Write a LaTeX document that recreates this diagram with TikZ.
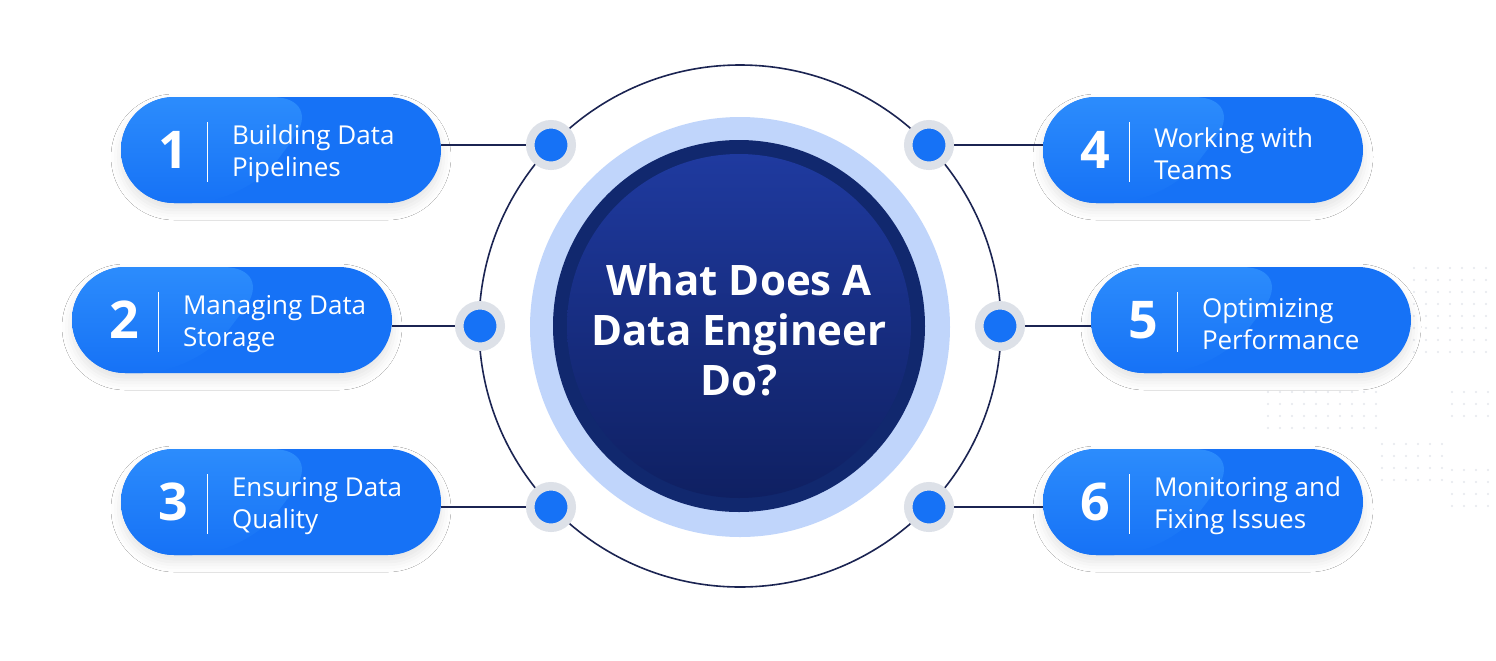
\documentclass[tikz,border=0pt]{standalone}
\usepackage{fontspec}
\IfFontExistsTF{Noto Sans Bold}{\setmainfont{Noto Sans}[BoldFont={Noto Sans Bold}]}{\setmainfont{Open Sans}}
\usetikzlibrary{positioning}
\usetikzlibrary{shadows.blur}

\definecolor{pillblue}{HTML}{1672F6}
\definecolor{pillhi}{HTML}{2C8CFC}
\definecolor{navy}{HTML}{1B2452}
\definecolor{ringgray}{HTML}{DDE1E8}
\definecolor{ringlight}{HTML}{C0D5FB}
\definecolor{corenavy}{HTML}{11286E}
\definecolor{coretop}{HTML}{1F3A9F}
\definecolor{corebot}{HTML}{0F2062}
\definecolor{speck}{HTML}{E4E7EC}

\tikzset{
	pill/.style={rectangle, rounded corners=26.5pt, minimum width=160pt, minimum height=53pt, inner sep=0pt, fill=pillblue,
		blur shadow={shadow xshift=0pt, shadow yshift=-3.5pt, shadow blur radius=5pt, shadow opacity=11},
		path picture={\shade[top color=pillhi, bottom color=pillblue] (path picture bounding box.north west) -- ([xshift=102pt]path picture bounding box.north west) -- ([xshift=62pt]path picture bounding box.south west) -- (path picture bounding box.south west) -- cycle;}},
	numtext/.style={text=white, font=\fontsize{26}{30}\selectfont\bfseries, inner sep=0pt},
	itemtext/.style={text=white, font=\fontsize{13}{16}\selectfont, align=left, anchor=west, inner sep=0pt},
	sepline/.style={white, line width=0.8pt},
	link/.style={navy, line width=0.8pt},
	dotnode/.style={circle, fill=pillblue, draw=ringgray, line width=4.25pt, minimum size=20.75pt, inner sep=0pt},
	title/.style={text=white, font=\fontsize{21}{25}\selectfont\bfseries, align=center}
}

\begin{document}
\begin{tikzpicture}[x=0.5pt,y=-0.5pt]
		\fill[white] (0,0) rectangle (1496,660);
		\useasboundingbox (0,0) rectangle (1496,660);

		% faint specks, lower right
		\foreach \x in {1414,1426,...,1490} \foreach \y in {268,280,...,356} \fill[speck] (\x,\y) circle[radius=0.6pt];
		\foreach \x in {1268,1280,...,1384} \foreach \y in {392,404,...,428} \fill[speck] (\x,\y) circle[radius=0.6pt];
		\foreach \x in {1452,1464,...,1490} \foreach \y in {392,404,...,420} \fill[speck] (\x,\y) circle[radius=0.6pt];
		\foreach \x in {1382,1394,...,1442} \foreach \y in {444,456,...,488} \fill[speck] (\x,\y) circle[radius=0.6pt];
		\foreach \x in {1452,1464,...,1490} \foreach \y in {470,482,...,510} \fill[speck] (\x,\y) circle[radius=0.6pt];

		% orbit and dot centres
		\node[circle, draw=navy, line width=0.8pt, minimum size=261pt, inner sep=0pt] (orbit) at (740,326) {};
		\coordinate (c1) at (551,145);
		\coordinate (c2) at (480,326);
		\coordinate (c3) at (551,507);
		\coordinate (c4) at (929,145);
		\coordinate (c5) at (1000,326);
		\coordinate (c6) at (929,507);

		% left pills
		\node[pill] (p1) at (281,150) {};
		\node[numtext] (n1) at ([xshift=26.5pt]p1.west) {1};
		\draw[sepline] ([xshift=43.5pt,yshift=14pt]p1.west) -- ([xshift=43.5pt,yshift=-16pt]p1.west);
		\node[itemtext] (t1) at ([xshift=55.5pt,yshift=-2pt]p1.west) {Building Data\\Pipelines};

		\node[pill] (p2) at (232,320) {};
		\node[numtext] (n2) at ([xshift=26.5pt]p2.west) {2};
		\draw[sepline] ([xshift=43.5pt,yshift=14pt]p2.west) -- ([xshift=43.5pt,yshift=-16pt]p2.west);
		\node[itemtext] (t2) at ([xshift=55.5pt,yshift=-2pt]p2.west) {Managing Data\\Storage};

		\node[pill] (p3) at (281,502) {};
		\node[numtext] (n3) at ([xshift=26.5pt]p3.west) {3};
		\draw[sepline] ([xshift=43.5pt,yshift=14pt]p3.west) -- ([xshift=43.5pt,yshift=-16pt]p3.west);
		\node[itemtext] (t3) at ([xshift=55.5pt,yshift=-2pt]p3.west) {Ensuring Data\\Quality};

		% right pills
		\node[pill] (p4) at (1203,150) {};
		\node[numtext] (n4) at ([xshift=26.5pt]p4.west) {4};
		\draw[sepline] ([xshift=43.5pt,yshift=14pt]p4.west) -- ([xshift=43.5pt,yshift=-16pt]p4.west);
		\node[itemtext] (t4) at ([xshift=55.5pt,yshift=-2pt]p4.west) {Working with\\Teams};

		\node[pill] (p5) at (1251,320) {};
		\node[numtext] (n5) at ([xshift=26.5pt]p5.west) {5};
		\draw[sepline] ([xshift=43.5pt,yshift=14pt]p5.west) -- ([xshift=43.5pt,yshift=-16pt]p5.west);
		\node[itemtext] (t5) at ([xshift=55.5pt,yshift=-2pt]p5.west) {Optimizing\\Performance};

		\node[pill] (p6) at (1203,502) {};
		\node[numtext] (n6) at ([xshift=26.5pt]p6.west) {6};
		\draw[sepline] ([xshift=43.5pt,yshift=14pt]p6.west) -- ([xshift=43.5pt,yshift=-16pt]p6.west);
		\node[itemtext] (t6) at ([xshift=55.5pt,yshift=-2pt]p6.west) {Monitoring and\\Fixing Issues};

		% links
		\draw[link] (c1) -- (c1 -| p1.east);
		\draw[link] (c2) -- (c2 -| p2.east);
		\draw[link] (c3) -- (c3 -| p3.east);
		\draw[link] (c4) -- (c4 -| p4.west);
		\draw[link] (c5) -- (c5 -| p5.west);
		\draw[link] (c6) -- (c6 -| p6.west);

		% dots on the orbit
		\node[dotnode] (d1) at (c1) {};
		\node[dotnode] (d2) at (c2) {};
		\node[dotnode] (d3) at (c3) {};
		\node[dotnode] (d4) at (c4) {};
		\node[dotnode] (d5) at (c5) {};
		\node[dotnode] (d6) at (c6) {};

		% centre
		\node[circle, fill=ringlight, minimum size=210pt, inner sep=0pt] (halo) at (740,327) {};
		\node[circle, fill=corenavy, minimum size=186pt, inner sep=0pt] (core) at (739,326) {};
		\shade[top color=coretop, bottom color=corebot] (core.center) circle[radius=86pt];
		\node[title] (q) at (739,330) {What Does A\\Data Engineer\\Do?};
	\end{tikzpicture}
\end{document}
